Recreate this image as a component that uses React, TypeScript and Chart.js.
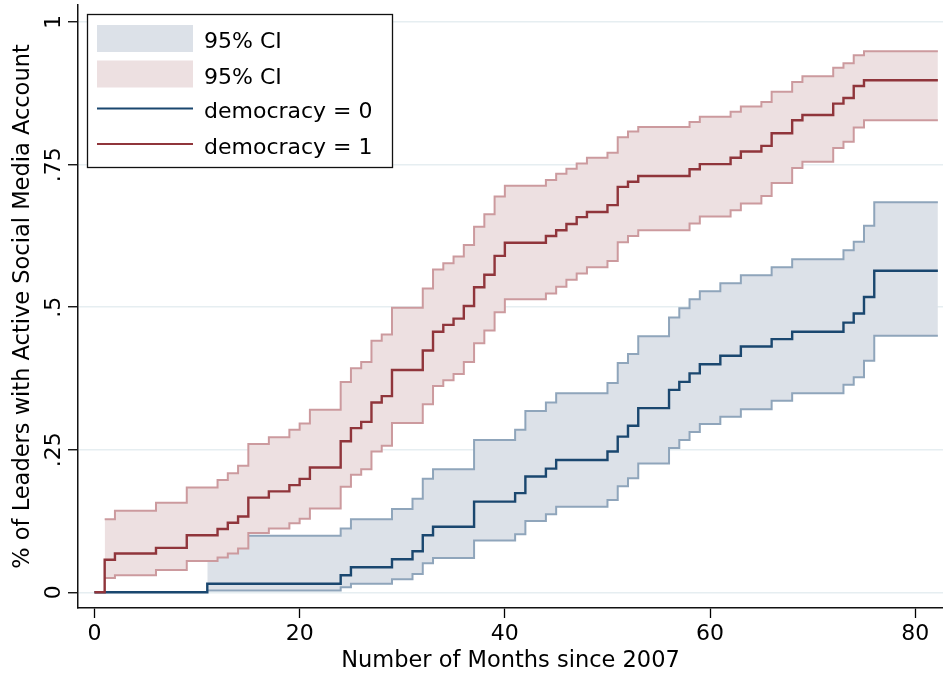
import React, { useEffect, useRef } from "react";
import { Chart, registerables } from "chart.js";

Chart.register(...registerables);

// ---------- data ----------
const endMonth = 82.2;

// democracy = 1 (failure estimate and 95% CI)
const demTimes = [0, 1, 2, 6, 9, 12, 13, 14, 15, 17, 19, 20, 21, 24, 25, 26, 27, 28, 29, 32, 33, 34, 35, 36, 37, 38, 39, 40, 44, 45, 46, 47, 48, 50, 51, 52, 53, 58, 59, 62, 63, 65, 66, 68, 69, 72, 73, 74, 75];
const demEst = [0, 0.057, 0.068, 0.078, 0.1, 0.111, 0.122, 0.133, 0.166, 0.177, 0.188, 0.199, 0.219, 0.265, 0.288, 0.299, 0.333, 0.344, 0.39, 0.424, 0.457, 0.469, 0.48, 0.502, 0.535, 0.557, 0.59, 0.613, 0.625, 0.635, 0.646, 0.658, 0.667, 0.679, 0.711, 0.72, 0.73, 0.742, 0.751, 0.762, 0.773, 0.783, 0.805, 0.828, 0.837, 0.857, 0.867, 0.888, 0.898];
const demCiTimes = [1, 2, 6, 9, 12, 13, 14, 15, 17, 19, 20, 21, 24, 25, 26, 27, 28, 29, 32, 33, 34, 35, 36, 37, 38, 39, 40, 44, 45, 46, 47, 48, 50, 51, 52, 53, 58, 59, 62, 63, 65, 66, 68, 69, 72, 73, 74, 75];
const demUpper = [0.128, 0.143, 0.157, 0.184, 0.197, 0.209, 0.222, 0.26, 0.272, 0.285, 0.296, 0.32, 0.369, 0.393, 0.404, 0.441, 0.452, 0.499, 0.533, 0.566, 0.577, 0.589, 0.609, 0.641, 0.663, 0.694, 0.713, 0.723, 0.734, 0.743, 0.752, 0.762, 0.771, 0.798, 0.808, 0.816, 0.825, 0.834, 0.843, 0.852, 0.86, 0.878, 0.895, 0.905, 0.92, 0.928, 0.942, 0.949];
const demLower = [0.025, 0.03, 0.039, 0.055, 0.061, 0.068, 0.077, 0.104, 0.112, 0.121, 0.129, 0.147, 0.185, 0.206, 0.216, 0.247, 0.257, 0.297, 0.33, 0.362, 0.372, 0.383, 0.404, 0.437, 0.459, 0.491, 0.514, 0.524, 0.536, 0.548, 0.559, 0.57, 0.581, 0.614, 0.625, 0.635, 0.647, 0.659, 0.67, 0.682, 0.695, 0.718, 0.744, 0.755, 0.779, 0.79, 0.815, 0.828];

// democracy = 0
const nonTimes = [0, 11, 24, 25, 29, 31, 32, 33, 37, 41, 42, 44, 45, 50, 51, 52, 53, 56, 57, 58, 59, 61, 63, 66, 68, 73, 74, 75, 76];
const nonEst = [0, 0.015, 0.03, 0.044, 0.058, 0.072, 0.1, 0.115, 0.159, 0.174, 0.203, 0.217, 0.232, 0.247, 0.273, 0.292, 0.323, 0.355, 0.369, 0.384, 0.4, 0.415, 0.431, 0.444, 0.457, 0.473, 0.489, 0.518, 0.564];
const nonCiTimes = [11, 24, 25, 29, 31, 32, 33, 37, 41, 42, 44, 45, 50, 51, 52, 53, 56, 57, 58, 59, 61, 63, 66, 68, 73, 74, 75, 76];
const nonUpper = [0.099, 0.112, 0.128, 0.146, 0.164, 0.199, 0.216, 0.267, 0.285, 0.318, 0.333, 0.349, 0.367, 0.402, 0.418, 0.449, 0.482, 0.498, 0.514, 0.528, 0.542, 0.556, 0.57, 0.584, 0.6, 0.615, 0.643, 0.684];
const nonLower = [0.003, 0.009, 0.015, 0.023, 0.032, 0.051, 0.06, 0.091, 0.102, 0.125, 0.137, 0.15, 0.162, 0.186, 0.2, 0.226, 0.253, 0.267, 0.281, 0.295, 0.308, 0.321, 0.336, 0.349, 0.364, 0.377, 0.406, 0.45];

const xTicks = [0, 20, 40, 60, 80];
const yTicks = [0, 0.25, 0.5, 0.75, 1];
const yTickLabels = ["0", ".25", ".5", ".75", "1"];
const legendLabels = ["95% CI", "95% CI", "democracy = 0", "democracy = 1"];
const xTitle = "Number of Months since 2007";
const yTitle = "% of Leaders with Active Social Media Account";

// ---------- styles ----------
const NAVY = "#1a476f";
const MAROON = "#90353b";
const BLUE_FILL = "#dce1e8";
const BLUE_EDGE = "#8fa5bb";
const PINK_FILL = "#ede0e1";
const PINK_EDGE = "#cc9a9e";
const GRID = "#e6eef1";
const FONT_FAMILY = '"DejaVu Sans", sans-serif';
const FONT_SIZE = 22;
const TITLE_SIZE = 22.5;

function steps(times: number[], values: number[]) {
  const pts = times.map((t, i) => ({ x: t, y: values[i] }));
  pts.push({ x: endMonth, y: values[values.length - 1] });
  return pts;
}

const legendPlugin = {
  id: "stataLegend",
  afterDraw(chart: any) {
    const c = chart.ctx;
    const area = chart.chartArea;
    const x0 = area.left + 9;
    const y0 = area.top + 9;
    const w = 305;
    const h = 153;
    c.save();
    c.fillStyle = "#ffffff";
    c.fillRect(x0, y0, w, h);
    c.strokeStyle = "#111";
    c.lineWidth = 1.3;
    c.strokeRect(x0 + 0.5, y0 + 0.5, w, h);

    const sx = x0 + 10;
    const sw = 96;
    const tx = x0 + 117;
    const rows = [
      { kind: "box", color: BLUE_FILL, cy: y0 + 24.5 },
      { kind: "box", color: PINK_FILL, cy: y0 + 60 },
      { kind: "line", color: NAVY, cy: y0 + 94.5 },
      { kind: "line", color: MAROON, cy: y0 + 130 },
    ];
    c.font = `${FONT_SIZE}px ${FONT_FAMILY}`;
    c.textAlign = "left";
    c.textBaseline = "alphabetic";
    rows.forEach((r, i) => {
      if (r.kind === "box") {
        c.fillStyle = r.color;
        c.fillRect(sx, r.cy - 13.5, sw, 27);
      } else {
        c.strokeStyle = r.color;
        c.lineWidth = 2.2;
        c.beginPath();
        c.moveTo(sx, r.cy);
        c.lineTo(sx + sw, r.cy);
        c.stroke();
      }
      c.fillStyle = "#000";
      c.fillText(legendLabels[i], tx, r.cy + 9.5);
    });
    c.restore();
  },
};

export default function App() {
  const ref = useRef<HTMLCanvasElement | null>(null);

  useEffect(() => {
    const canvas = ref.current;
    if (!canvas) return;
    const font = { family: FONT_FAMILY, size: FONT_SIZE };
    const titleFont = { family: FONT_FAMILY, size: TITLE_SIZE };

    const chart = new Chart(canvas, {
      type: "line",
      data: {
        datasets: [
          {
            label: "CI upper 0",
            data: steps(nonCiTimes, nonUpper),
            borderColor: BLUE_EDGE,
            backgroundColor: BLUE_FILL,
            borderWidth: 2,
            fill: "+1",
            stepped: "before",
            pointRadius: 0,
            order: 6,
          },
          {
            label: "CI lower 0",
            data: steps(nonCiTimes, nonLower),
            borderColor: BLUE_EDGE,
            borderWidth: 2,
            fill: false,
            stepped: "before",
            pointRadius: 0,
            order: 5,
          },
          {
            label: "CI upper 1",
            data: steps(demCiTimes, demUpper),
            borderColor: PINK_EDGE,
            backgroundColor: PINK_FILL,
            borderWidth: 2,
            fill: "+1",
            stepped: "before",
            pointRadius: 0,
            order: 4,
          },
          {
            label: "CI lower 1",
            data: steps(demCiTimes, demLower),
            borderColor: PINK_EDGE,
            borderWidth: 2,
            fill: false,
            stepped: "before",
            pointRadius: 0,
            order: 3,
          },
          {
            label: "democracy = 0",
            data: steps(nonTimes, nonEst),
            borderColor: NAVY,
            borderWidth: 2.4,
            fill: false,
            stepped: "before",
            pointRadius: 0,
            order: 2,
          },
          {
            label: "democracy = 1",
            data: steps(demTimes, demEst),
            borderColor: MAROON,
            borderWidth: 2.4,
            fill: false,
            stepped: "before",
            pointRadius: 0,
            order: 1,
          },
        ],
      },
      options: {
        animation: false,
        responsive: true,
        maintainAspectRatio: false,
        devicePixelRatio: 1,
        layout: { padding: { top: 5, right: 0, left: 0, bottom: 0 } },
        plugins: {
          legend: { display: false },
          tooltip: { enabled: false },
          title: { display: false },
        },
        scales: {
          x: {
            type: "linear",
            min: -1.6,
            max: 82.7,
            afterBuildTicks: (scale: any) => {
              scale.ticks = xTicks.map((v) => ({ value: v }));
            },
            afterFit: (scale: any) => {
              scale.height = 69;
              scale.paddingLeft = 0;
              scale.paddingRight = 0;
            },
            ticks: {
              font,
              color: "#000",
              padding: 3,
              maxRotation: 0,
              autoSkip: false,
              callback: (v: any) => String(v),
            },
            grid: {
              drawOnChartArea: false,
              drawTicks: true,
              tickLength: 10,
              tickColor: "#000",
              tickWidth: 1.3,
            },
            border: { display: true, color: "#111", width: 1.5 },
            title: {
              display: true,
              text: xTitle,
              font: titleFont,
              color: "#000",
              padding: { top: 0, bottom: 2 },
            },
          },
          y: {
            type: "linear",
            min: -0.0275,
            max: 1.03,
            afterBuildTicks: (scale: any) => {
              scale.ticks = yTicks.map((v) => ({ value: v }));
            },
            afterFit: (scale: any) => {
              scale.width = 78;
              scale.paddingTop = 0;
              scale.paddingBottom = 0;
            },
            ticks: {
              font,
              color: "#000",
              padding: -4,
              minRotation: 90,
              maxRotation: 90,
              crossAlign: "center",
              autoSkip: false,
              callback: (v: any) => {
                const i = yTicks.indexOf(Number(v));
                return i >= 0 ? yTickLabels[i] : "";
              },
            },
            grid: {
              color: GRID,
              lineWidth: 1.5,
              drawTicks: true,
              tickLength: 10,
              tickColor: "#000",
              tickWidth: 1.3,
            },
            border: { display: true, color: "#111", width: 1.5 },
            title: {
              display: true,
              text: yTitle,
              font: titleFont,
              color: "#000",
              padding: { top: 10, bottom: 0 },
            },
          },
        },
      },
      plugins: [legendPlugin],
    } as any);

    return () => chart.destroy();
  }, []);

  return (
    <div
      style={{
        position: "absolute",
        left: 0,
        top: 0,
        width: 943,
        height: 677,
        background: "#ffffff",
      }}
    >
      <canvas ref={ref} />
    </div>
  );
}
